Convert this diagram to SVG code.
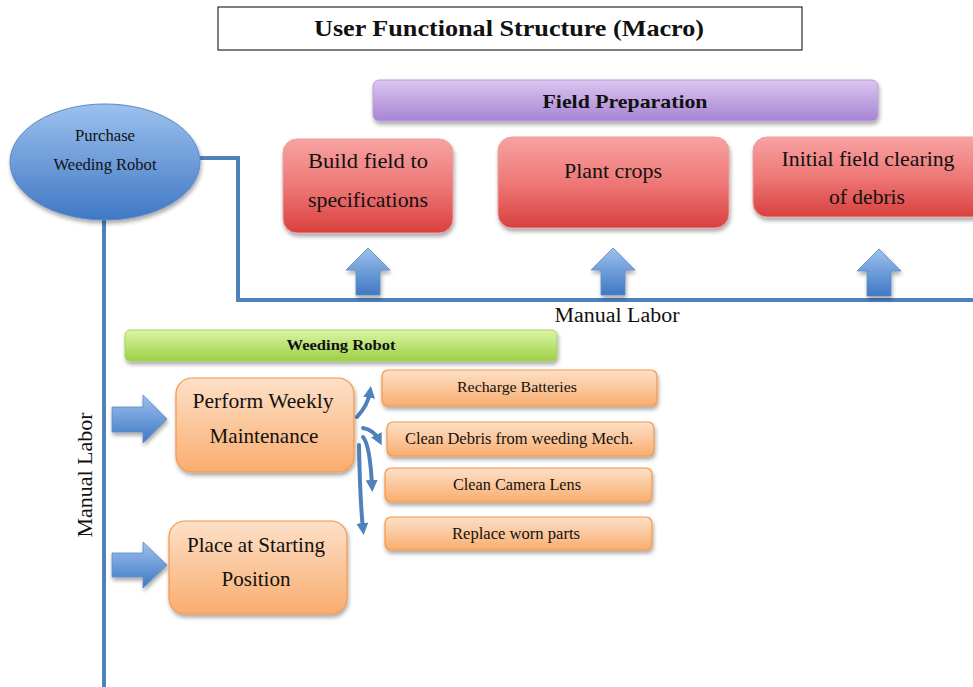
<svg xmlns="http://www.w3.org/2000/svg" width="973" height="687" viewBox="0 0 973 687" font-family="'Liberation Serif', 'Times New Roman', serif">
<defs>
<style>
text{fill:#111;text-anchor:middle;font-family:"Liberation Serif","Times New Roman",serif}
.b{font-weight:bold}
.conn{fill:none;stroke:#4f81bd;stroke-width:4}
.thin{fill:none;stroke:#4f81bd;stroke-width:4;stroke-linecap:round}
.blk{fill:url(#gBlue);stroke:#5a8ac6;stroke-width:0.8}
.red{fill:url(#gRed);stroke:#e8a0a0;stroke-width:1}
.org{fill:url(#gOrg);stroke:#f79646;stroke-width:1.2}
</style>
<linearGradient id="gBlue" x1="0" y1="0" x2="0" y2="1"><stop offset="0" stop-color="#9cc1ee"/><stop offset="1" stop-color="#3f78c4"/></linearGradient>
<linearGradient id="gRed" x1="0" y1="0" x2="0" y2="1"><stop offset="0" stop-color="#f7a3a2"/><stop offset="0.5" stop-color="#ee7877"/><stop offset="1" stop-color="#d9403e"/></linearGradient>
<linearGradient id="gOrg" x1="0" y1="0" x2="0" y2="1"><stop offset="0" stop-color="#fde0c8"/><stop offset="1" stop-color="#f9ad6f"/></linearGradient>
<linearGradient id="gGreen" x1="0" y1="0" x2="0" y2="1"><stop offset="0" stop-color="#dcf5a8"/><stop offset="1" stop-color="#9dd044"/></linearGradient>
<linearGradient id="gPurple" x1="0" y1="0" x2="0" y2="1"><stop offset="0" stop-color="#dbc6f0"/><stop offset="1" stop-color="#a784d3"/></linearGradient>
<filter id="sh" x="-10%" y="-10%" width="125%" height="135%"><feGaussianBlur in="SourceAlpha" stdDeviation="2"/><feOffset dx="1" dy="3"/><feComponentTransfer><feFuncA type="linear" slope="0.35"/></feComponentTransfer><feMerge><feMergeNode/><feMergeNode in="SourceGraphic"/></feMerge></filter>
<marker id="ah" viewBox="0 0 10 10" refX="5" refY="5" markerWidth="3" markerHeight="3" orient="auto"><path d="M0,0 L10,5 L0,10 Z" fill="#4f81bd"/></marker>
</defs>
<rect width="973" height="687" fill="#fff"/>

<g id="title">
<rect x="218" y="7" width="584" height="43" fill="#fff" stroke="#000" stroke-width="1"/>
<text x="509" y="36" class="b" font-size="24" textLength="390" lengthAdjust="spacingAndGlyphs">User Functional Structure (Macro)</text>
</g>

<g id="connectors">
<polyline class="conn" points="200,158 238,158 238,300 973,300"/>
<line class="conn" x1="104" y1="220" x2="104" y2="687"/>
<path class="thin" d="M357,417 Q368,405 370,392" marker-end="url(#ah)"/>
<path class="thin" d="M363,428 Q374,430 379,440" marker-end="url(#ah)"/>
<path class="thin" d="M363,437 Q370,445 372,486" marker-end="url(#ah)"/>
<path class="thin" d="M359,445 Q360,500 363,529" marker-end="url(#ah)"/>
<text x="617" y="322" font-size="20" textLength="125" lengthAdjust="spacingAndGlyphs">Manual Labor</text>
<text transform="translate(92,475) rotate(-90)" font-size="20" textLength="125" lengthAdjust="spacingAndGlyphs">Manual Labor</text>
</g>

<g id="up-arrows">
<path class="blk" filter="url(#sh)" d="M368,248 L390,270 L380,270 L380,295 L356,295 L356,270 L346,270 Z"/>
<path class="blk" filter="url(#sh)" d="M613,248 L635,270 L625,270 L625,295 L601,295 L601,270 L591,270 Z"/>
<path class="blk" filter="url(#sh)" d="M879,249 L901,271 L891,271 L891,296 L867,296 L867,271 L857,271 Z"/>
</g>

<g id="right-arrows">
<path class="blk" filter="url(#sh)" d="M167,419 L143,443 L143,432 L112,432 L112,407 L143,407 L143,395 Z"/>
<path class="blk" filter="url(#sh)" d="M167,565 L143,588 L143,577 L112,577 L112,553 L143,553 L143,542 Z"/>
</g>

<g id="purchase">
<ellipse cx="105" cy="162" rx="95" ry="58" fill="url(#gBlue)" stroke="#5a8ac6" stroke-width="1" filter="url(#sh)"/>
<text x="105" y="141" font-size="16" textLength="60" lengthAdjust="spacingAndGlyphs">Purchase</text>
<text x="105" y="170" font-size="16" textLength="103" lengthAdjust="spacingAndGlyphs">Weeding Robot</text>
</g>

<g id="field-prep">
<rect x="373" y="80" width="505" height="41" rx="6" fill="url(#gPurple)" stroke="#b9a0dc" filter="url(#sh)"/>
<text x="625" y="108" class="b" font-size="19" textLength="165" lengthAdjust="spacingAndGlyphs">Field Preparation</text>
</g>

<g id="build-field">
<rect x="283" y="139" width="170" height="94" rx="14" class="red" filter="url(#sh)"/>
<text x="368" y="168" font-size="21" textLength="120" lengthAdjust="spacingAndGlyphs">Build field to</text>
<text x="368" y="207" font-size="21" textLength="120" lengthAdjust="spacingAndGlyphs">specifications</text>
</g>

<g id="plant-crops">
<rect x="498" y="137" width="231" height="91" rx="14" class="red" filter="url(#sh)"/>
<text x="613" y="178" font-size="21" textLength="98" lengthAdjust="spacingAndGlyphs">Plant crops</text>
</g>

<g id="initial-clearing">
<rect x="753" y="137" width="240" height="80" rx="14" class="red" filter="url(#sh)"/>
<text x="868" y="166" font-size="21" textLength="173" lengthAdjust="spacingAndGlyphs">Initial field clearing</text>
<text x="867" y="204" font-size="21" textLength="76" lengthAdjust="spacingAndGlyphs">of debris</text>
</g>

<g id="weeding-robot">
<rect x="125" y="330" width="432" height="31" rx="5" fill="url(#gGreen)" stroke="#a6d35c" filter="url(#sh)"/>
<text x="341" y="350" class="b" font-size="15" textLength="109" lengthAdjust="spacingAndGlyphs">Weeding Robot</text>
</g>

<g id="weekly">
<rect x="176" y="378" width="178" height="94" rx="16" class="org" filter="url(#sh)"/>
<text x="263" y="408" font-size="21" textLength="141" lengthAdjust="spacingAndGlyphs">Perform Weekly</text>
<text x="264" y="443" font-size="21" textLength="109" lengthAdjust="spacingAndGlyphs">Maintenance</text>
</g>

<g id="starting">
<rect x="169" y="521" width="178" height="93" rx="16" class="org" filter="url(#sh)"/>
<text x="256" y="552" font-size="21" textLength="138" lengthAdjust="spacingAndGlyphs">Place at Starting</text>
<text x="256" y="586" font-size="21" textLength="69" lengthAdjust="spacingAndGlyphs">Position</text>
</g>

<g id="recharge">
<rect x="382" y="370" width="275" height="36" rx="6" class="org" filter="url(#sh)"/>
<text x="517" y="392" font-size="15" textLength="120" lengthAdjust="spacingAndGlyphs">Recharge Batteries</text>
</g>

<g id="clean-debris">
<rect x="387" y="422" width="267" height="34" rx="6" class="org" filter="url(#sh)"/>
<text x="519" y="444" font-size="16" textLength="228" lengthAdjust="spacingAndGlyphs">Clean Debris from weeding Mech.</text>
</g>

<g id="clean-lens">
<rect x="385" y="468" width="267" height="34" rx="6" class="org" filter="url(#sh)"/>
<text x="517" y="490" font-size="16" textLength="128" lengthAdjust="spacingAndGlyphs">Clean Camera Lens</text>
</g>

<g id="replace">
<rect x="385" y="517" width="267" height="33" rx="6" class="org" filter="url(#sh)"/>
<text x="516" y="539" font-size="16" textLength="128" lengthAdjust="spacingAndGlyphs">Replace worn parts</text>
</g>
</svg>
